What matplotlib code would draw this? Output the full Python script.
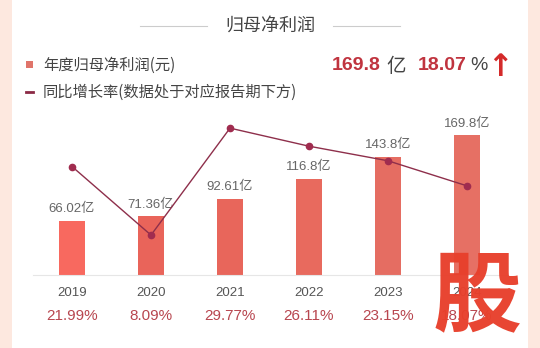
import matplotlib.pyplot as plt
from matplotlib.patches import Rectangle
from matplotlib.lines import Line2D

plt.rcParams['font.family'] = ['Noto Sans CJK SC', 'DejaVu Sans']

years = ["2019", "2020", "2021", "2022", "2023", "2024"]
profit = [66.02, 71.36, 92.61, 116.8, 143.8, 169.8]
profit_labels = ["66.02亿", "71.36亿", "92.61亿", "116.8亿", "143.8亿", "169.8亿"]
growth = [21.99, 8.09, 29.77, 26.11, 23.15, 18.07]
growth_labels = ["21.99%", "8.09%", "29.77%", "26.11%", "23.15%", "18.07%"]

bar_colors = ["#f8695f", "#e9645a", "#e8665b", "#e86a5e", "#e56d62", "#e67064"]
num_font = ["Liberation Sans", "Noto Sans CJK SC"]

W, H = 540, 348
fig = plt.figure(figsize=(W / 100, H / 100), dpi=100)
fig.patch.set_facecolor("#fde8df")

# white panel
fig.add_artist(Rectangle((12 / W, 0), (W - 24) / W, 1, transform=fig.transFigure,
                         facecolor="white", edgecolor="none", zorder=0))

def fx(x):
    return x / W

def fy(y):
    return 1 - y / H

# title
fig.text(fx(270), fy(26), "归母净利润", ha="center", va="center", fontsize=13, color="#444444")
fig.add_artist(Line2D([fx(140), fx(207)], [fy(26), fy(26)], color="#cccccc", lw=0.8))
fig.add_artist(Line2D([fx(333), fx(400)], [fy(26), fy(26)], color="#cccccc", lw=0.8))

# legend
fig.add_artist(Rectangle((fx(26), fy(67.5)), 7 / W, 7 / H, transform=fig.transFigure,
                         facecolor="#e0746a", edgecolor="none"))
fig.text(fx(43), fy(65), "年度归母净利润(元)", ha="left", va="center", fontsize=11, color="#444444")
fig.add_artist(Line2D([fx(26), fx(33)], [fy(92), fy(92)], color="#8b2a45", lw=2))
fig.text(fx(43), fy(92), "同比增长率(数据处于对应报告期下方)", ha="left", va="center",
         fontsize=11, color="#444444")

# latest figures
fig.text(fx(332), fy(66), f"{profit[-1]}", ha="left", va="center", fontsize=14,
         fontweight="bold", color="#c0343f", family=num_font)
fig.text(fx(386), fy(66), "亿", ha="left", va="center", fontsize=14, color="#444444")
fig.text(fx(418), fy(66), f"{growth[-1]:.2f}", ha="left", va="center", fontsize=14,
         fontweight="bold", color="#c0343f", family=num_font)
fig.text(fx(470), fy(66), "%", ha="left", va="center", fontsize=14, color="#444444",
         family=num_font)
fig.text(fx(500), fy(67), "↑", ha="center", va="center", fontsize=22,
         fontweight="bold", color="#d42a2a", family="DejaVu Sans")

# chart
ax = fig.add_axes([fx(32.5), fy(275), 474 / W, 148 / H])
ax.set_facecolor("none")
x = list(range(len(years)))
ax.bar(x, profit, width=0.32, color=bar_colors, zorder=2)
for xi, v, lab in zip(x, profit, profit_labels):
    ax.annotate(lab, (xi, v), xytext=(0, 4), textcoords="offset points",
                ha="center", va="bottom", fontsize=9.5, color="#666666", family=num_font)
ax.set_xlim(-0.5, 5.5)
ax.set_ylim(0, 180)
ax.set_xticks([])
ax.set_yticks([])
for s in ["top", "right", "left"]:
    ax.spines[s].set_visible(False)
ax.spines["bottom"].set_color("#e6e6e6")
for xi, yr, gl in zip(x, years, growth_labels):
    ax.annotate(yr, (xi, 0), xytext=(0, -13), textcoords="offset points",
                ha="center", va="center", fontsize=9.5, color="#555555", family=num_font)
    ax.annotate(gl, (xi, 0), xytext=(0, -29.2), textcoords="offset points",
                ha="center", va="center", fontsize=11, color="#b8464f", family=num_font)

ax2 = ax.twinx()
ax2.set_ylim(0, 30)
ax2.plot(x, growth, color="#8e2f4b", lw=1, marker="o", markersize=4.5,
         markerfacecolor="#a02c4f", markeredgecolor="#a02c4f", zorder=3, clip_on=False)
ax2.axis("off")

# watermark
fig.text(fx(477), fy(298), "股", ha="center", va="center", fontsize=64,
         fontweight="heavy", color="#e8402c", alpha=0.97)

fig.savefig("out.png", dpi=100, facecolor=fig.get_facecolor())
